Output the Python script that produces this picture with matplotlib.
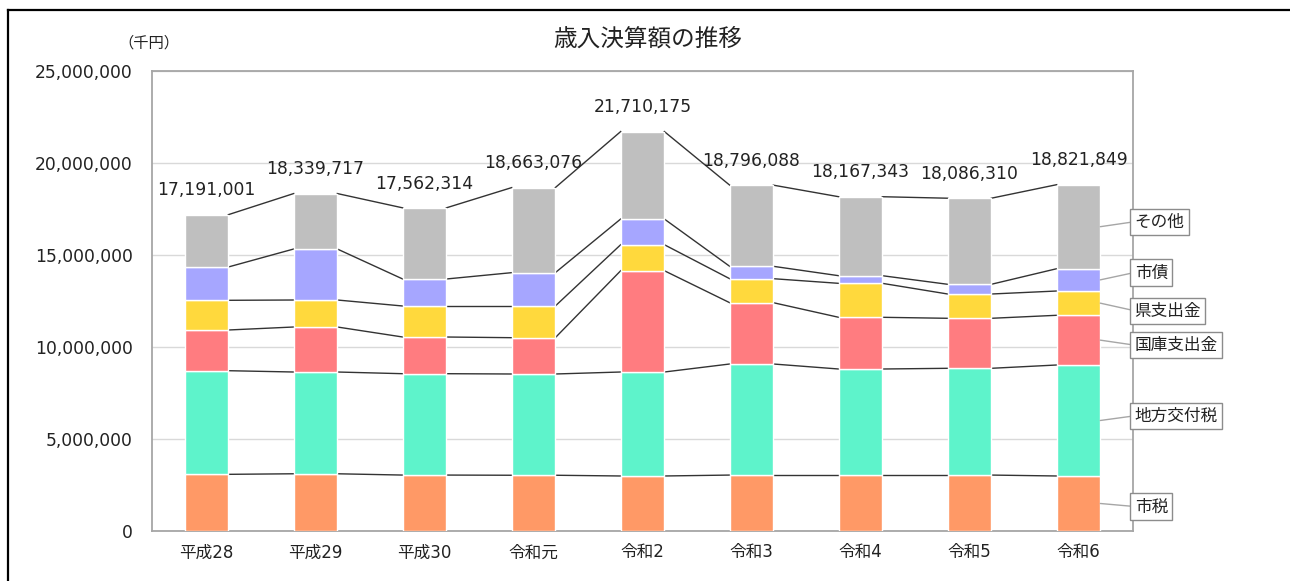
import numpy as np
import matplotlib
matplotlib.use('Agg')
import matplotlib.pyplot as plt
from matplotlib.lines import Line2D

plt.rcParams['font.family'] = ['DejaVu Sans', 'Noto Sans CJK JP']

# [1] Data (千円)
years = ['平成28', '平成29', '平成30', '令和元', '令和2', '令和3', '令和4', '令和5', '令和6']
totals = [17191001, 18339717, 17562314, 18663076, 21710175, 18796088, 18167343, 18086310, 18821849]

shizei = [3080000, 3110000, 3040000, 3030000, 2990000, 3040000, 3040000, 3040000, 2990000]
koufuzei = [5632000, 5531000, 5509000, 5503000, 5651000, 6036000, 5764000, 5802000, 6032000]
kokko = [2212000, 2446000, 1994000, 1973000, 5506000, 3332000, 2810000, 2718000, 2701000]
ken = [1614000, 1467000, 1685000, 1722000, 1413000, 1304000, 1846000, 1320000, 1320000]
shisai = [1810000, 2772000, 1468000, 1812000, 1397000, 673000, 415000, 528000, 1212000]
sonota = [2843001, 3013717, 3866314, 4623076, 4753175, 4411088, 4292343, 4678310, 4566849]

series_names = ['市税', '地方交付税', '国庫支出金', '県支出金', '市債', 'その他']
series_vals = [shizei, koufuzei, kokko, ken, shisai, sonota]
colors = ['#FF9966', '#5EF3CB', '#FF7C80', '#FFD93D', '#A6A6FF', '#BFBFBF']

# label box positions (value on y axis)
label_y = [1330000, 6260000, 10100000, 11970000, 14050000, 16810000]

# [2] Plot
fig = plt.figure(figsize=(12.9, 5.81), dpi=100)
ax = fig.add_axes([152/1290, 50/581, 981/1290, 460/581])

x = np.arange(len(years))
w = 0.4
bottom = np.zeros(len(years))
tops = []
for name, vals, c in zip(series_names, series_vals, colors):
    vals = np.array(vals, dtype=float)
    ax.bar(x, vals, w, bottom=bottom, color=c, edgecolor='white', linewidth=1.0, zorder=3)
    bottom = bottom + vals
    tops.append(bottom.copy())

# series lines between bars
for t in tops:
    for i in range(len(years) - 1):
        ax.plot([x[i] + w/2, x[i+1] - w/2], [t[i], t[i+1]], color='#333333', lw=1.0, zorder=2)

# total labels
for i, tot in enumerate(totals):
    ax.annotate(f'{tot:,}', (x[i], bottom[i]), xytext=(0, 11), textcoords='offset points',
                ha='center', va='bottom', fontsize=12.3, color='#222222')

# series labels on the right
last = len(years) - 1
prev = 0.0
for name, t, ly in zip(series_names, tops, label_y):
    mid = (prev + t[last]) / 2
    prev = t[last]
    ax.annotate(name, (x[last] + w/2, mid), xytext=(8.515, ly), textcoords='data',
                ha='left', va='center', fontsize=12, color='#222222',
                annotation_clip=False,
                bbox=dict(boxstyle='square,pad=0.25', fc='white', ec='#8C8C8C', lw=1.0),
                arrowprops=dict(arrowstyle='-', color='#A6A6A6', lw=1.0,
                                relpos=(0, 0.5), shrinkA=0, shrinkB=0))

ax.set_xlim(-0.5, len(years) - 0.5)
ax.set_ylim(0, 25000000)
ax.set_yticks(np.arange(0, 25000001, 5000000))
ax.set_yticklabels([f'{int(v):,}' for v in np.arange(0, 25000001, 5000000)])
ax.set_xticks(x)
ax.set_xticklabels(years)
ax.tick_params(axis='y', length=0, pad=14, labelsize=12.3, labelcolor='#222222')
ax.tick_params(axis='x', length=0, pad=9, labelsize=12, labelcolor='#222222')
ax.grid(axis='y', color='#D9D9D9', lw=1.0, zorder=0)
ax.set_axisbelow(True)
for s in ax.spines.values():
    s.set_color('#A6A6A6')
    s.set_linewidth(1.3)

fig.text(648/1290, 1 - 39/581, '歳入決算額の推移', ha='center', va='center', fontsize=17, color='#222222')
fig.text(149/1290, 1 - 43/581, '（千円）', ha='center', va='center', fontsize=11,
         color='#222222', family=['Noto Sans CJK JP'])

# outer frame (top and left edges visible)
fig.add_artist(Line2D([8/1290, 1], [1 - 9.5/581, 1 - 9.5/581], color='black', lw=1.6, transform=fig.transFigure))
fig.add_artist(Line2D([7.5/1290, 7.5/1290], [0, 1 - 9.5/581], color='black', lw=1.6, transform=fig.transFigure))

fig.savefig('out.png', dpi=100, facecolor='white')
